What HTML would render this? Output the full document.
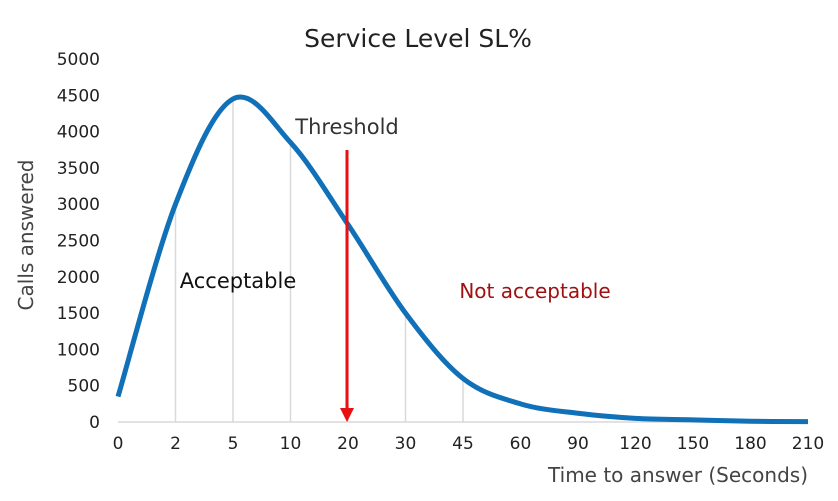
<!DOCTYPE html>
<html><head><meta charset="utf-8"><style>
body{margin:0;background:#fff;}
svg{display:block;font-family:"DejaVu Sans","Liberation Sans",sans-serif;}
</style></head><body>
<svg id="chart" width="838" height="501">
<text x="418" y="47" text-anchor="middle" font-size="25" fill="#222">Service Level  SL%</text>
<text transform="translate(33,235) rotate(-90)" text-anchor="middle" font-size="20" fill="#444">Calls answered</text>
<text x="808" y="482" text-anchor="end" font-size="20" fill="#444">Time to answer (Seconds)</text>
<g id="grid"></g><g id="yt"></g><g id="xt"></g>
<line x1="118" y1="422" x2="808" y2="422" stroke="#d9d9d9" stroke-width="1.5"/>
<path id="curve" fill="none" stroke="#1070b8" stroke-width="5"/>
<line x1="347" y1="150" x2="347" y2="408" stroke="#e81010" stroke-width="3"/>
<polygon points="340,408 354,408 347,422" fill="#e81010"/>
<text x="347" y="134" text-anchor="middle" font-size="21" fill="#333">Threshold</text>
<text x="238" y="288" text-anchor="middle" font-size="21" fill="#111">Acceptable</text>
<text x="535" y="298" text-anchor="middle" font-size="20" fill="#a01010">Not acceptable</text>
</svg>
<script>
const categories=["0","2","5","10","20","30","45","60","90","120","150","180","210"];
const calls=[350,3000,4450,3850,2720,1500,600,250,120,50,30,10,5];
const yTicks=[0,500,1000,1500,2000,2500,3000,3500,4000,4500,5000];
const dropLineCats=[1,2,3,4,5,6];
const x0=118,x1=808,y0=422,y1=59,yMax=5000;
const xs=i=>x0+i*(x1-x0)/(categories.length-1);
const ys=v=>y0-v/yMax*(y0-y1);
const NS="http://www.w3.org/2000/svg";
const mk=(t,a,p)=>{const e=document.createElementNS(NS,t);for(const k in a)e.setAttribute(k,a[k]);p.appendChild(e);return e;};
const yt=document.getElementById('yt'),xt=document.getElementById('xt'),grid=document.getElementById('grid');
yTicks.forEach(v=>{const t=mk('text',{x:100,y:ys(v)+6,'text-anchor':'end','font-size':17,fill:'#222'},yt);t.textContent=v;

});
categories.forEach((c,i)=>{const t=mk('text',{x:xs(i),y:449,'text-anchor':'middle','font-size':17,fill:'#222'},xt);t.textContent=c;

});
dropLineCats.forEach(i=>{const l=mk('line',{x1:xs(i),x2:xs(i),y1:ys(calls[i]),y2:y0,stroke:'#d9d9d9','stroke-width':1.5},grid);

});
const P=calls.map((v,i)=>[xs(i),ys(v)]);
let d='M'+P[0][0]+','+P[0][1];
for(let i=0;i<P.length-1;i++){const p0=P[i-1]||P[i],p1=P[i],p2=P[i+1],p3=P[i+2]||p2;const k=6;
d+=` C${p1[0]+(p2[0]-p0[0])/k},${p1[1]+(p2[1]-p0[1])/k} ${p2[0]-(p3[0]-p1[0])/k},${p2[1]-(p3[1]-p1[1])/k} ${p2[0]},${p2[1]}`;}
document.getElementById('curve').setAttribute('d',d);
</script>
</body></html>
